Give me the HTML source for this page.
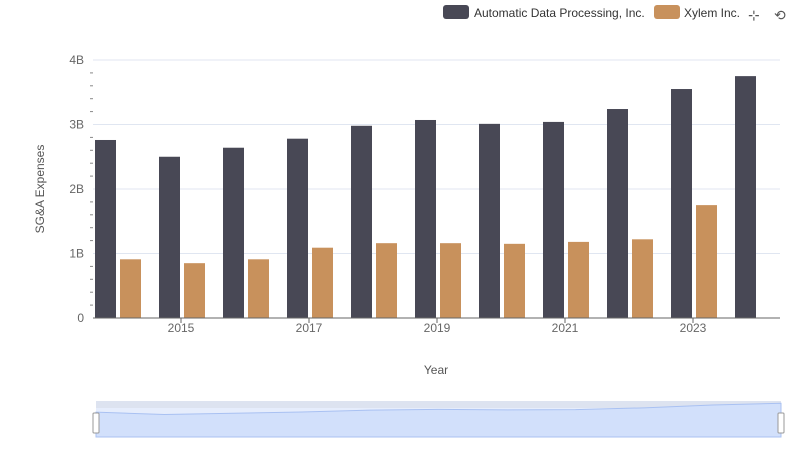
<!DOCTYPE html>
<html><head><meta charset="utf-8"><style>
body{margin:0;background:#fff;font-family:"Liberation Sans",sans-serif}
svg text{font-family:"Liberation Sans",sans-serif}
</style></head><body>
<svg width="800" height="461" id="chart">
<g>
<rect x="443" y="5" width="26" height="14" rx="3" fill="#484855"/>
<text x="474" y="17" font-size="12" fill="#333">Automatic Data Processing, Inc.</text>
<rect x="654" y="5" width="26" height="14" rx="3" fill="#c8915c"/>
<text x="684" y="17" font-size="12" fill="#333">Xylem Inc.</text>
<text x="748" y="20" font-size="14" fill="#555">⊹</text>
<text x="774" y="20" font-size="14" fill="#555">⟲</text>
</g>
<g id="grid"></g>
<g id="bars"></g>
<g id="axes"></g>
<text transform="translate(44,189) rotate(-90)" text-anchor="middle" font-size="12" fill="#555">SG&amp;A Expenses</text>
<text x="436" y="374" text-anchor="middle" font-size="12" fill="#555">Year</text>
<g>
<rect x="96" y="401" width="685" height="36" fill="#e6edfc"/>
<rect x="96" y="401" width="685" height="7" fill="#dde3f0"/>
<path id="navarea" fill="#d2e0fb" stroke="#a9c1f2" stroke-width="1"/>
<rect x="93" y="413" width="6" height="20" rx="1" fill="#fff" stroke="#999"/>
<rect x="778" y="413" width="6" height="20" rx="1" fill="#fff" stroke="#999"/>
</g>
</svg>
<script>
const years=[2014,2015,2016,2017,2018,2019,2020,2021,2022,2023,2024];
const adp=[2.76,2.50,2.64,2.78,2.98,3.07,3.01,3.04,3.24,3.55,3.75];
const xylem=[0.91,0.85,0.91,1.09,1.16,1.16,1.15,1.18,1.22,1.75,null];
const yTicks=[0,1,2,3,4];
const yTickLabels=["0","1B","2B","3B","4B"];
const xTickYears=[2015,2017,2019,2021,2023];
const NS="http://www.w3.org/2000/svg";
const x=y=>117+64*(y-2014);
const yS=v=>318-v*64.5;
function mk(tag,attrs,parent,text){const e=document.createElementNS(NS,tag);for(const k in attrs)e.setAttribute(k,attrs[k]);if(text!==undefined)e.textContent=text;document.getElementById(parent).appendChild(e);return e;}
yTicks.forEach((t,i)=>{
 if(t>0){const g=mk('line',{x1:93,x2:780,y1:yS(t),y2:yS(t),stroke:'#e0e6f1'},'grid');
 
 }
 const l=mk('text',{x:84,y:yS(t)+4,'text-anchor':'end','font-size':12,fill:'#666'},'axes',yTickLabels[i]);
 
 
 if(i<yTicks.length-1){for(let m=1;m<5;m++){const mt=mk('line',{x1:90,x2:93,y1:yS(t+m*0.2),y2:yS(t+m*0.2),stroke:'#888'},'axes');
 
 }}
});
const ax=mk('line',{x1:93,x2:780,y1:318,y2:318,stroke:'#666'},'axes');


xTickYears.forEach(y=>{
 const tk=mk('line',{x1:x(y),x2:x(y),y1:318,y2:323,stroke:'#666'},'axes');
 
 
 const t=mk('text',{x:x(y),y:332,'text-anchor':'middle','font-size':12,fill:'#666'},'axes',String(y));
 
 
});
years.forEach((y,i)=>{
 const a=mk('rect',{x:x(y)-22,y:yS(adp[i]),width:21,height:318-yS(adp[i]),fill:'#484855'},'bars');
 
 
 if(xylem[i]!=null){const b=mk('rect',{x:x(y)+3,y:yS(xylem[i]),width:21,height:318-yS(xylem[i]),fill:'#c8915c'},'bars');
 
 }
});
// navigator area from adp series
const nx=y=>96+685*(y-2014)/10, ny=v=>437-(v/4)*36;
let d='M96,437';years.forEach((y,i)=>{d+=' L'+nx(y)+','+ny(adp[i]);});d+=' L781,437 Z';
document.getElementById('navarea').setAttribute('d',d);
</script>
</body></html>
